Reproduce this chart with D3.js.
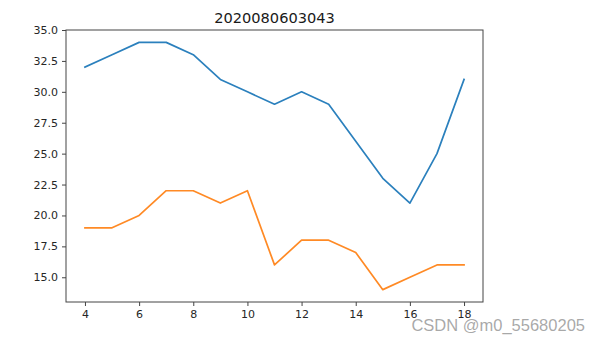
<!DOCTYPE html>
<html><head><meta charset="utf-8">
<script src="https://cdn.jsdelivr.net/npm/d3@7"></script>
<style>html,body{margin:0;padding:0;background:#fff;}svg{display:block;}</style>
</head><body>
<svg id="c" width="592" height="342"></svg>
<script>
const xs = [4,5,6,7,8,9,10,11,12,13,14,15,16,17,18];
const seriesA = [32,33,34,34,33,31,30,29,30,29,26,23,21,25,31];
const seriesB = [19,19,20,22,22,21,22,16,18,18,17,14,15,16,16];
const xTicks = [4,6,8,10,12,14,16,18];
const yTicks = [15,17.5,20,22.5,25,27.5,30,32.5,35];
const title = "2020080603043";
const watermark = "CSDN @m0_55680205";

const svg = d3.select("#c");
const L=66, R=483, T=30, B=302;
const x = d3.scaleLinear().domain([3.3,18.7]).range([L,R]);
const y = d3.scaleLinear().domain([13,35]).range([B,T]);
const font = "DejaVu Sans, sans-serif";

const line = d3.line().x((d,i)=>x(xs[i])).y(d=>y(d));
svg.append("path").datum(seriesA).attr("d",line).attr("fill","none")
  .attr("stroke","#2b80bd").attr("stroke-width",1.7).attr("stroke-linejoin","round").attr("stroke-linecap","square");
svg.append("path").datum(seriesB).attr("d",line).attr("fill","none")
  .attr("stroke","#ff8a25").attr("stroke-width",1.7).attr("stroke-linejoin","round").attr("stroke-linecap","square");

svg.append("rect").attr("x",L).attr("y",T).attr("width",R-L).attr("height",B-T)
  .attr("fill","none").attr("stroke","#444").attr("stroke-width",1);

const xa = svg.append("g").attr("transform",`translate(0,${B})`)
  .call(d3.axisBottom(x).tickValues(xTicks).tickSize(4).tickPadding(4).tickFormat(d3.format("d")));
const ya = svg.append("g").attr("transform",`translate(${L},0)`)
  .call(d3.axisLeft(y).tickValues(yTicks).tickSize(4).tickPadding(4).tickFormat(d3.format(".1f")));
[xa,ya].forEach(a=>{
  a.select(".domain").remove();
  a.selectAll("line").attr("stroke","#444").attr("stroke-width",1);
  a.selectAll("text").attr("fill","#262626").style("font-family",font).style("font-size","11px");
});

svg.append("text").attr("x",274.5).attr("y",23).attr("text-anchor","middle")
  .style("font-family",font).style("font-size","14.6px").attr("fill","#1a1a1a").text(title);

svg.append("text").attr("x",585).attr("y",331).attr("text-anchor","end")
  .style("font-family","Liberation Sans, Arial, sans-serif").style("font-size","16.5px")
  .attr("fill","#999").attr("fill-opacity",0.85).text(watermark);
</script>
</body></html>
